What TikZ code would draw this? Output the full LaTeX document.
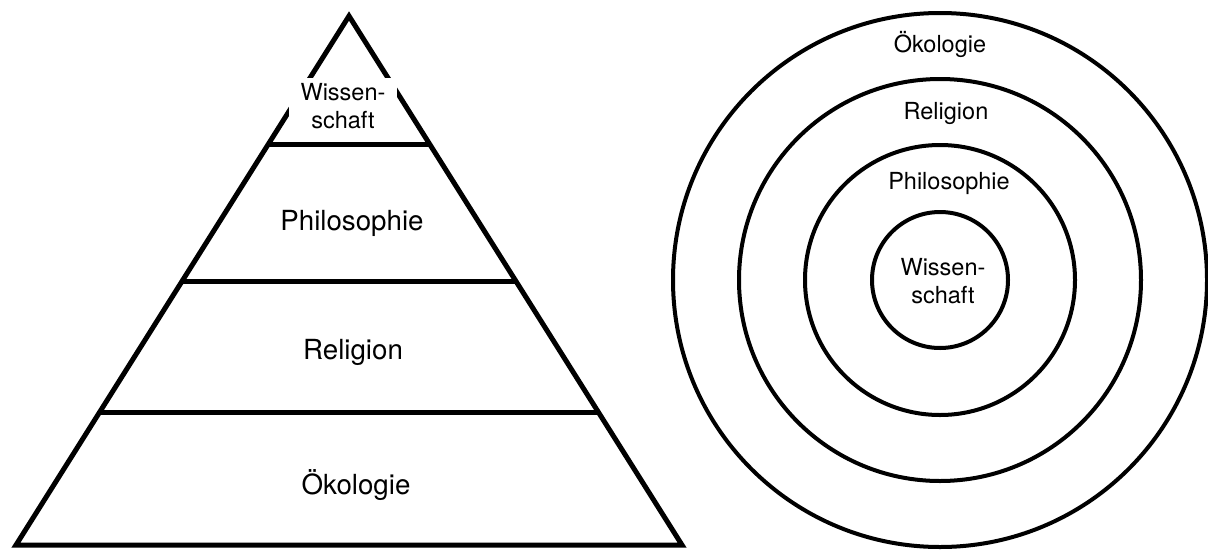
\documentclass[tikz,border=0pt]{standalone}
\usepackage{fontspec}
\setmainfont{TeX Gyre Heros}
\usetikzlibrary{calc}
\tikzset{
  pyr/.style={line width=5pt, line join=miter},
  ring/.style={circle, draw, line width=4pt, inner sep=0pt},
  biglabel/.style={anchor=base, inner sep=0pt, font=\fontsize{27.7}{33}\selectfont},
  smalllabel/.style={anchor=base, inner sep=0pt, font=\fontsize{23.5}{28}\selectfont},
  whitebox/.style={fill=white, draw=none, inner sep=0pt}
}
\begin{document}
\begin{tikzpicture}[x=1pt, y=-1pt]
\useasboundingbox (0,0) rectangle (1208,552);
% ---------------- pyramid ----------------
\coordinate (apex) at (349,16);
\coordinate (bl) at (16,545);
\coordinate (br) at (682,545);
\draw[pyr] (apex) -- (bl) -- (br) -- cycle;
\coordinate (l1) at ($(bl)!0.758!(apex)$);
\coordinate (r1) at ($(br)!0.758!(apex)$);
\coordinate (l2) at ($(bl)!0.499!(apex)$);
\coordinate (r2) at ($(br)!0.499!(apex)$);
\coordinate (l3) at ($(bl)!0.2514!(apex)$);
\coordinate (r3) at ($(br)!0.2514!(apex)$);
\draw[pyr] (l1) -- (r1);
\draw[pyr] (l2) -- (r2);
\draw[pyr] (l3) -- (r3);
\node[whitebox, minimum width=108pt, minimum height=58pt] (wsbox) at (343,107) {};
\node[smalllabel] (pw1) at (343,100) {Wissen-};
\node[smalllabel] (pw2) at (343,128) {schaft};
\node[biglabel] (pphil) at (352,230) {Philosophie};
\node[biglabel] (prel) at (353,359) {Religion};
\node[biglabel] (poek) at (356,494) {Ökologie};
% ---------------- circles ----------------
\coordinate (c) at (940,280);
\node[ring, minimum size=534pt] (r4) at (c) {};
\node[ring, minimum size=402pt] (r3c) at (c) {};
\node[ring, minimum size=270pt] (r2c) at (c) {};
\node[ring, minimum size=136pt] (r1c) at (c) {};
\node[smalllabel] (cokl) at (940,52) {Ökologie};
\node[smalllabel] (crel) at (946,119) {Religion};
\node[smalllabel] (cphil) at (949,189.5) {Philosophie};
\node[smalllabel] (cw1) at (943,275) {Wissen-};
\node[smalllabel] (cw2) at (943,303) {schaft};
\end{tikzpicture}
\end{document}
